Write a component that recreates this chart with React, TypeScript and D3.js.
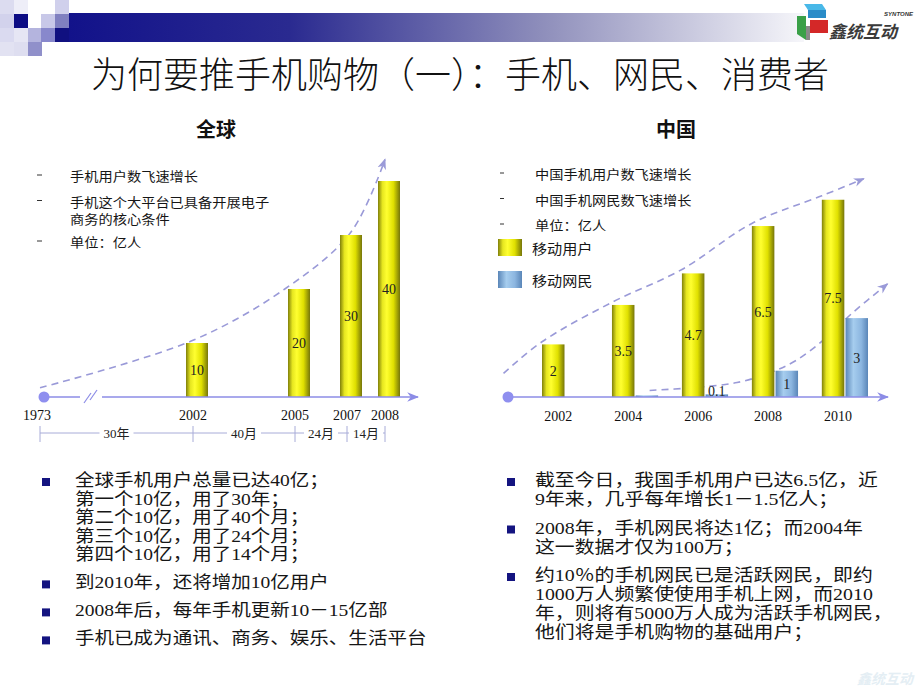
import React from "react";
import * as d3 from "d3";

const W = 920;
const H = 690;
const CJK = "'Noto Sans CJK SC', sans-serif";
const MIX = "'Liberation Serif', 'Noto Sans CJK SC', serif";

// 全球
const globalYears = [2002, 2005, 2007, 2008];
const globalUsers = [10, 20, 30, 40];
const timelineYears = [1973, 2002, 2005, 2007, 2008];
const timelineSpans = ["30年", "40月", "24月", "14月"];
const globalTrendYears = [1973, 2002, 2004.7, 2007.1, 2008];
const globalTrendValues = [1.7, 10.5, 20, 30.5, 44];
const globalNotes = [["手机用户数飞速增长"], ["手机这个大平台已具备开展电子", "商务的核心条件"], ["单位：亿人"]];

// 中国
const chinaYears = [2002, 2004, 2006, 2008, 2010];
const chinaSeries = ["移动用户", "移动网民"];
const chinaUsers = [2, 3.5, 4.7, 6.5, 7.5];
const chinaNetizens = [null, 0.06, 0.1, 1, 3];
const usersTrendYears = [2000.9, 2002, 2004, 2006, 2008, 2010, 2011.2];
const usersTrendValues = [0.9, 2.1, 3.6, 4.85, 6.6, 7.65, 8.3];
const netTrendYears = [2004.4, 2005.6, 2006.9, 2007.9, 2008.6, 2009.4, 2010.2, 2011.2];
const netTrendValues = [0.25, 0.35, 0.55, 0.95, 1.4, 2.2, 3.2, 4.3];
const chinaNotes = [["中国手机用户数飞速增长"], ["中国手机网民数飞速增长"], ["单位：亿人"]];

const globalPoints = [
  ["全球手机用户总量已达40亿；", "第一个10亿，用了30年；", "第二个10亿，用了40个月；", "第三个10亿，用了24个月；", "第四个10亿，用了14个月；"],
  ["到2010年，还将增加10亿用户"],
  ["2008年后，每年手机更新10－15亿部"],
  ["手机已成为通讯、商务、娱乐、生活平台"],
];
const chinaPoints = [
  ["截至今日，我国手机用户已达6.5亿，近", "9年来，几乎每年增长1－1.5亿人；"],
  ["2008年，手机网民将达1亿；而2004年", "这一数据才仅为100万；"],
  ["约10％的手机网民已是活跃网民，即约", "1000万人频繁使使用手机上网，而2010", "年，则将有5000万人成为活跃手机网民，", "他们将是手机购物的基础用户；"],
];

const headerSquares: [number, number, string][] = [
  [0, 0, "#dcdcf0"], [0, 14, "#d2d2ec"], [0, 28, "#dadaf0"], [0, 42, "#e2e2f2"],
  [14, 0, "#eeeef8"], [14, 14, "#0c0c84"], [14, 28, "#e6e6f4"], [14, 42, "#dedef0"],
  [28, 28, "#b4b4de"], [28, 42, "#9090ca"],
  [41, 14, "#c8c8e8"], [41, 28, "#8888cc"],
  [55, 0, "#d0d0ec"], [55, 14, "#8080c0"], [55, 28, "#101080"],
];

const AXIS = "#8c8ce6";
const TREND = "#9a9ad8";
const BASE = 397;
const BAR_W = 22;
const STRETCH = 1.13;

const xG = d3.scaleLinear().domain(timelineYears).range([40, 193, 295, 347, 385]);
const yG = d3.scaleLinear().domain([0, 40]).range([BASE, 181]);

const band = d3.scaleBand<number>().domain(chinaYears).range([542, 868]).paddingInner(0.34).paddingOuter(0);
const inner = d3.scaleBand<string>().domain(chinaSeries).range([0, band.bandwidth()]).paddingInner(0.05);
const xC = d3.scaleLinear().domain([2002, 2010]).range([band(2002)!, band(2010)!]);
const yC = d3.scaleLinear().domain([0, 8]).range([BASE, BASE - 8 * 26.3]);

const globalTrend = d3
  .line<number>()
  .x((d) => xG(d))
  .y((d, i) => yG(globalTrendValues[i]))
  .curve(d3.curveCatmullRom.alpha(0.5));
const usersTrend = d3
  .line<number>()
  .x((d) => xC(d))
  .y((d, i) => yC(usersTrendValues[i]))
  .curve(d3.curveCatmullRom.alpha(0.5));
const netTrend = d3
  .line<number>()
  .x((d) => xC(d) + inner("移动网民")!)
  .y((d, i) => yC(netTrendValues[i]))
  .curve(d3.curveCatmullRom.alpha(0.5));

// stretched text, like the squat glyphs of the slide
const SText = ({ x, y, fs, family, children }: { x: number; y: number; fs: number; family: string; children: React.ReactNode }) => (
  <g transform={`translate(${x},${y}) scale(${STRETCH},1)`}>
    <text x={0} y={0} fontSize={fs} fontFamily={family} fill="#161616">
      {children}
    </text>
  </g>
);

const Notes = ({ notes, x, y0, dashX, small }: { notes: string[][]; x: number; y0: number; dashX: number; small?: boolean }) => {
  let y = y0;
  const out: React.ReactNode[] = [];
  notes.forEach((item, i) => {
    out.push(<line key={"d" + i} x1={dashX} x2={dashX + (small ? 4 : 5)} y1={y - 6} y2={y - 6} stroke="#333" strokeWidth={1} />);
    item.forEach((t, j) => {
      out.push(
        <SText key={i + "-" + j} x={x} y={y + j * 17} fs={12.6} family={CJK}>
          {t}
        </SText>
      );
    });
    y += (item.length - 1) * 15 + 25.5;
  });
  return <g>{out}</g>;
};

const Bullets = ({ items, x, bx, y0, lh, gap, fs }: { items: string[][]; x: number; bx: number; y0: number; lh: number; gap: number; fs: number }) => {
  let y = y0;
  const out: React.ReactNode[] = [];
  items.forEach((item, i) => {
    out.push(<rect key={"b" + i} x={bx} y={y - 8} width={8} height={8} fill="#141480" />);
    item.forEach((t, j) => {
      out.push(
        <SText key={i + "-" + j} x={x} y={y + j * lh} fs={fs} family={MIX}>
          {t}
        </SText>
      );
    });
    y += (item.length - 1) * lh + gap;
  });
  return <g>{out}</g>;
};

const App = () => {
  const axisEndG = xG(2008) + 33;
  const circleG = xG(1973) + 4;
  const circleC = band(2002)! - 34;
  const axisEndC = band(2010)! + band.bandwidth() + 20;
  const yw = inner.bandwidth();

  return (
    <svg width={W} height={H} style={{ position: "absolute", left: 0, top: 0, background: "#fff" }}>
      <defs>
        <linearGradient id="hdr" x1="0" x2="1" y1="0" y2="0">
          <stop offset="0" stopColor="#12128a" />
          <stop offset="0.3" stopColor="#2a2a90" />
          <stop offset="0.65" stopColor="#9090bc" />
          <stop offset="1" stopColor="#f6f6fa" />
        </linearGradient>
        <linearGradient id="yel" x1="0" x2="1" y1="0" y2="0">
          <stop offset="0" stopColor="#80800a" />
          <stop offset="0.2" stopColor="#e6e620" />
          <stop offset="0.4" stopColor="#ffff30" />
          <stop offset="0.7" stopColor="#e0e000" />
          <stop offset="1" stopColor="#76760a" />
        </linearGradient>
        <linearGradient id="blu" x1="0" x2="1" y1="0" y2="0">
          <stop offset="0" stopColor="#5a86b8" />
          <stop offset="0.35" stopColor="#a6cdee" />
          <stop offset="0.7" stopColor="#8cb6e0" />
          <stop offset="1" stopColor="#5a86b8" />
        </linearGradient>
        <marker id="ah" viewBox="0 0 10 10" refX="9" refY="5" markerWidth="11" markerHeight="11" markerUnits="userSpaceOnUse" orient="auto">
          <path d="M0,1 L10,5 L0,9 L3,5 Z" fill={TREND} />
        </marker>
        <marker id="ax" viewBox="0 0 10 10" refX="9" refY="5" markerWidth="12" markerHeight="12" markerUnits="userSpaceOnUse" orient="auto">
          <path d="M0,1 L10,5 L0,9 L3,5 Z" fill={AXIS} />
        </marker>
      </defs>

      {/* header */}
      <rect x={69} y={13} width={735} height={29} fill="url(#hdr)" />
      {headerSquares.map(([x, y, c], i) => (
        <rect key={i} x={x} y={y} width={14} height={14} fill={c} />
      ))}
      <g>
        <polygon points="804,4 822,4 826,10 808,10" fill="#49b8e8" />
        <polygon points="808,10 826,10 826,18 808,18" fill="#2a8cc8" />
        <polygon points="797,16 806,16 806,40 797,34" fill="#3aa048" />
        <polygon points="810,20 828,20 828,33 810,33" fill="#d42828" />
        <polygon points="806,26 810,26 810,40 806,40" fill="#888" />
        <text x={829} y={38} fontSize={17} fontStyle="italic" fontWeight="bold" fontFamily={CJK} fill="#3a3a3a">鑫统互动</text>
        <text x={913} y={16} fontSize={6} fontStyle="italic" fontWeight="bold" textAnchor="end" fontFamily="'Liberation Sans', sans-serif" fill="#333">SYNTONE</text>
      </g>
      <text x={W / 2} y={88} textAnchor="middle" fontSize={36} fontFamily={CJK} fontWeight={300} fill="#111">
        为何要推手机购物（一）：手机、网民、消费者
      </text>

      {/* 全球 */}
      <text x={216} y={137} textAnchor="middle" fontSize={20} fontWeight="bold" fontFamily={CJK} fill="#111">全球</text>
      <Notes notes={globalNotes} x={70} y0={181} dashX={37} />

      <path d={globalTrend(globalTrendYears) ?? ""} fill="none" stroke={TREND} strokeWidth={1.6} strokeDasharray="7 5" markerEnd="url(#ah)" />
      {globalYears.map((yr, i) => {
        const cx = xG(yr) + 4;
        const top = yG(globalUsers[i]);
        return (
          <g key={yr}>
            <rect x={cx - BAR_W / 2} y={top} width={BAR_W} height={BASE - top} fill="url(#yel)" />
            <text x={cx} y={(top + BASE) / 2 + 5} textAnchor="middle" fontSize={14} fontFamily={MIX} fill="#222">{globalUsers[i]}</text>
          </g>
        );
      })}
      <line x1={circleG} x2={80} y1={BASE} y2={BASE} stroke={AXIS} strokeWidth={1.5} />
      <line x1={102} x2={axisEndG} y1={BASE} y2={BASE} stroke={AXIS} strokeWidth={1.5} markerEnd="url(#ax)" />
      <line x1={84} x2={91} y1={403} y2={393} stroke={AXIS} strokeWidth={1.2} />
      <line x1={90} x2={97} y1={400} y2={390} stroke={AXIS} strokeWidth={1.2} />
      <circle cx={circleG} cy={BASE} r={5.5} fill="#8f8fef" />
      {timelineYears.map((yr) => (
        <text key={yr} x={xG(yr) - (yr === 1973 ? 3 : 0)} y={420} textAnchor="middle" fontSize={14} fontFamily={MIX} fill="#111">{yr}</text>
      ))}
      {timelineYears.map((yr) => (
        <line key={"t" + yr} x1={xG(yr)} x2={xG(yr)} y1={426} y2={442} stroke="#a8acd8" strokeWidth={1} />
      ))}
      {timelineSpans.map((s, i) => {
        const a = xG(timelineYears[i]);
        const b = xG(timelineYears[i + 1]);
        const m = (a + b) / 2;
        const half = 17;
        return (
          <g key={s}>
            {m - half > a && <line x1={a} x2={m - half} y1={433} y2={433} stroke="#a8acd8" />}
            {b > m + half && <line x1={m + half} x2={b} y1={433} y2={433} stroke="#a8acd8" />}
            <text x={m} y={438} textAnchor="middle" fontSize={13} fontFamily={MIX} fill="#222">{s}</text>
          </g>
        );
      })}

      {/* 中国 */}
      <text x={676} y={137} textAnchor="middle" fontSize={20} fontWeight="bold" fontFamily={CJK} fill="#111">中国</text>
      <Notes notes={chinaNotes} x={535} y0={179} dashX={500} small />
      {chinaSeries.map((s, i) => (
        <g key={s}>
          <rect x={498} y={239 + i * 32} width={24} height={17} fill={i === 0 ? "url(#yel)" : "url(#blu)"} />
          <SText x={532} y={254 + i * 32} fs={13.4} family={CJK}>{s}</SText>
        </g>
      ))}

      <path d={usersTrend(usersTrendYears) ?? ""} fill="none" stroke={TREND} strokeWidth={1.6} strokeDasharray="7 5" markerEnd="url(#ah)" />
      <path d={netTrend(netTrendYears) ?? ""} fill="none" stroke={TREND} strokeWidth={1.6} strokeDasharray="7 5" markerEnd="url(#ah)" />
      {chinaYears.map((yr, i) => {
        const g0 = band(yr)!;
        const vals = [chinaUsers[i], chinaNetizens[i]];
        return (
          <g key={yr}>
            {vals.map((v, k) => {
              if (v == null) return null;
              const x = g0 + inner(chinaSeries[k])!;
              const top = yC(v);
              const ly = Math.min((top + BASE) / 2, BASE - 6) + 5;
              return (
                <g key={k}>
                  <rect x={x} y={top} width={yw} height={BASE - top} fill={k === 0 ? "url(#yel)" : "url(#blu)"} />
                  {v >= 0.1 && (
                    <text x={x + yw / 2} y={ly} textAnchor="middle" fontSize={14} fontFamily={MIX} fill="#222">{v}</text>
                  )}
                </g>
              );
            })}
            <text x={g0 + inner(chinaSeries[0])! + yw / 2 + 5} y={421} textAnchor="middle" fontSize={14} fontFamily={MIX} fill="#111">{yr}</text>
          </g>
        );
      })}
      <line x1={circleC} x2={axisEndC} y1={BASE} y2={BASE} stroke={AXIS} strokeWidth={1.5} markerEnd="url(#ax)" />
      <circle cx={circleC} cy={BASE} r={5.5} fill="#8f8fef" />

      {/* bottom bullets */}
      <Bullets items={globalPoints} x={75} bx={42} y0={486} lh={18.6} gap={28} fs={17.3} />
      <Bullets items={chinaPoints} x={535} bx={507} y0={486} lh={19} gap={28.5} fs={17.6} />

      <text x={913} y={684} textAnchor="end" fontSize={14} fontStyle="italic" fontWeight="bold" fontFamily={CJK} fill="#e4eef4">鑫统互动</text>
    </svg>
  );
};

export default App;
